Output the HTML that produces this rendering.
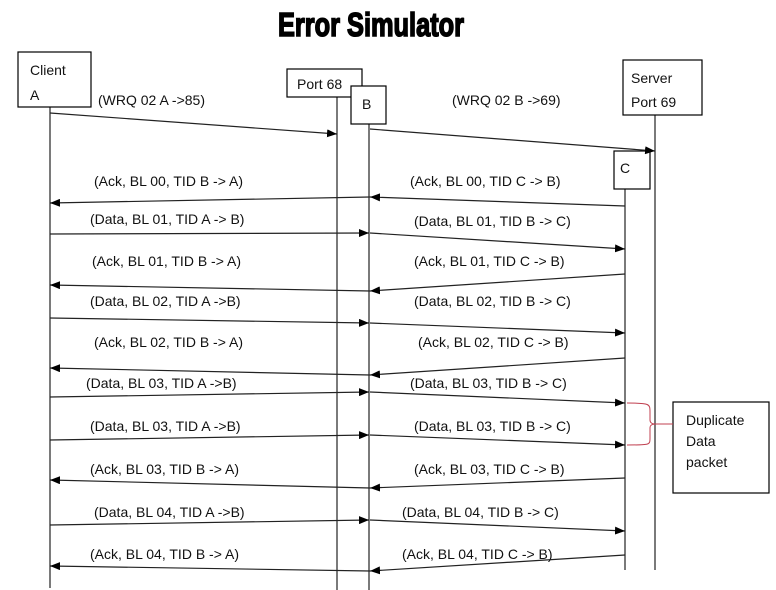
<!DOCTYPE html>
<html><head><meta charset="utf-8"><style>
html,body{margin:0;padding:0;background:#fff;}
svg{display:block;}
text{font-family:"Liberation Sans",sans-serif;font-size:14px;fill:#111;}
.t{font-family:"Liberation Sans Narrow","Liberation Sans",sans-serif;font-weight:bold;font-size:33px;fill:#000;stroke:#000;stroke-width:1.6px;}
</style></head><body>
<svg width="776" height="590" viewBox="0 0 776 590" xmlns="http://www.w3.org/2000/svg">
<defs><marker id="a" markerWidth="10" markerHeight="8" refX="10" refY="4" orient="auto" markerUnits="userSpaceOnUse"><path d="M0,0L10,4L0,8z" fill="#000"/></marker></defs>
<text class="t" x="371" y="36" text-anchor="middle" textLength="186" lengthAdjust="spacingAndGlyphs">Error Simulator</text>
<g stroke="#333" stroke-width="1.3" fill="none">
<line x1="50" y1="107" x2="50" y2="588"/>
<line x1="337" y1="97" x2="337" y2="590"/>
<line x1="369" y1="124" x2="369" y2="590"/>
<line x1="655" y1="115" x2="655" y2="570"/>
<line x1="625" y1="189" x2="625" y2="570"/>
</g>
<g stroke="#000" stroke-width="1.2" fill="#fff">
<rect x="18" y="52" width="73" height="55"/>
<rect x="287" y="69" width="75" height="28"/>
<rect x="351" y="86" width="35" height="38"/>
<rect x="623" y="60" width="79" height="55"/>
<rect x="614" y="151" width="36" height="38"/>
<rect x="673" y="402" width="96" height="91"/>
</g>
<text x="30" y="75">Client</text><text x="30" y="100">A</text>
<text x="297" y="89">Port 68</text>
<text x="362" y="109">B</text>
<text x="631" y="83">Server</text><text x="631" y="107">Port 69</text>
<text x="620" y="173">C</text>
<text x="686" y="425">Duplicate</text><text x="686" y="446">Data</text><text x="686" y="467">packet</text>
<g stroke="#222" stroke-width="1.2" marker-end="url(#a)">
<line x1="50" y1="113" x2="337" y2="134"/>
<line x1="370" y1="129" x2="655" y2="151"/>
<line x1="625" y1="206" x2="370" y2="197"/><line x1="370" y1="197" x2="50" y2="203"/>
<line x1="50" y1="234" x2="369" y2="233"/><line x1="370" y1="233" x2="625" y2="249"/>
<line x1="625" y1="274" x2="370" y2="291"/><line x1="370" y1="291" x2="50" y2="285"/>
<line x1="50" y1="318" x2="369" y2="323"/><line x1="370" y1="323" x2="625" y2="333"/>
<line x1="625" y1="358" x2="370" y2="375"/><line x1="370" y1="375" x2="50" y2="368"/>
<line x1="50" y1="397" x2="369" y2="392"/><line x1="370" y1="392" x2="625" y2="403"/>
<line x1="50" y1="440" x2="369" y2="435"/><line x1="370" y1="435" x2="625" y2="445"/>
<line x1="625" y1="478" x2="370" y2="488"/><line x1="370" y1="488" x2="50" y2="480"/>
<line x1="50" y1="525" x2="369" y2="520"/><line x1="370" y1="520" x2="625" y2="531"/>
<line x1="625" y1="555" x2="370" y2="571"/><line x1="370" y1="571" x2="50" y2="566"/>
</g>
<path d="M627,403 C650,403 650,404 650,412 L650,420 C650,423 652,424 656,424 L673,424 M656,424 C652,424 650,425 650,428 L650,438 C650,445 650,445 627,445" stroke="#c04050" stroke-width="1" fill="none"/>
<text x="98" y="105">(WRQ 02 A -&gt;85)</text>
<text x="452" y="105">(WRQ 02 B -&gt;69)</text>
<text x="94" y="186">(Ack, BL 00, TID B -&gt; A)</text><text x="410" y="186">(Ack, BL 00, TID C -&gt; B)</text>
<text x="90" y="224">(Data, BL 01, TID A -&gt; B)</text><text x="414" y="226">(Data, BL 01, TID B -&gt; C)</text>
<text x="92" y="266">(Ack, BL 01, TID B -&gt; A)</text><text x="414" y="266">(Ack, BL 01, TID C -&gt; B)</text>
<text x="90" y="306">(Data, BL 02, TID A -&gt;B)</text><text x="414" y="306">(Data, BL 02, TID B -&gt; C)</text>
<text x="94" y="347">(Ack, BL 02, TID B -&gt; A)</text><text x="418" y="347">(Ack, BL 02, TID C -&gt; B)</text>
<text x="86" y="388">(Data, BL 03, TID A -&gt;B)</text><text x="410" y="388">(Data, BL 03, TID B -&gt; C)</text>
<text x="90" y="431">(Data, BL 03, TID A -&gt;B)</text><text x="414" y="431">(Data, BL 03, TID B -&gt; C)</text>
<text x="90" y="474">(Ack, BL 03, TID B -&gt; A)</text><text x="414" y="474">(Ack, BL 03, TID C -&gt; B)</text>
<text x="94" y="517">(Data, BL 04, TID A -&gt;B)</text><text x="402" y="517">(Data, BL 04, TID B -&gt; C)</text>
<text x="90" y="559">(Ack, BL 04, TID B -&gt; A)</text><text x="402" y="559">(Ack, BL 04, TID C -&gt; B)</text>
</svg>
</body></html>
